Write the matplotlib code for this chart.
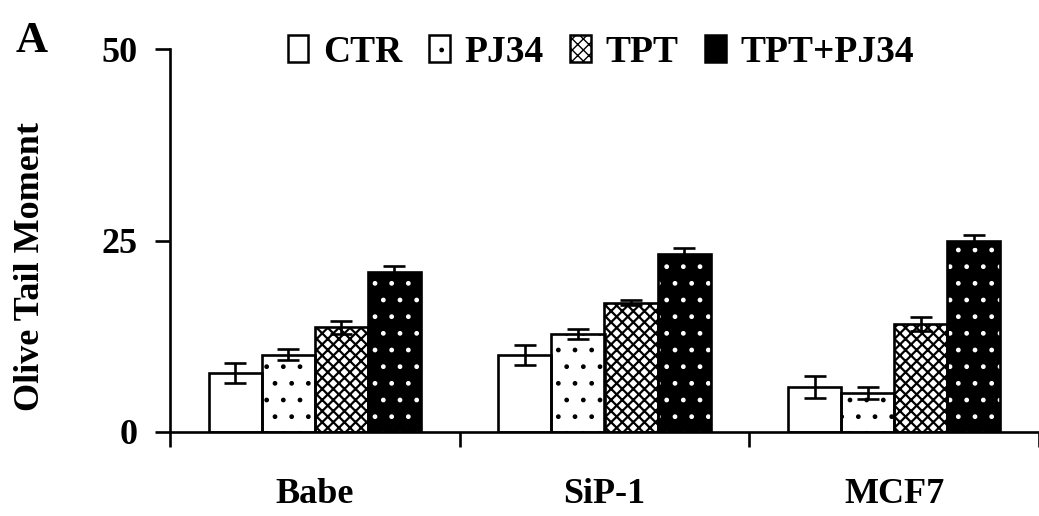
import matplotlib
matplotlib.use("Agg")
import matplotlib.pyplot as plt
from matplotlib.patches import Patch
import numpy as np

plt.rcParams['font.family'] = ['Liberation Serif', 'DejaVu Serif']
plt.rcParams['font.weight'] = 'bold'

# ---- data ----
cell_lines = ["Babe", "SiP-1", "MCF7"]
treatments = ["CTR", "PJ34", "TPT", "TPT+PJ34"]
ctr = [7.7, 10.0, 5.9]
pj34 = [10.1, 12.8, 5.1]
tpt = [13.7, 16.9, 14.1]
tpt_pj34 = [20.9, 23.2, 25.0]
ctr_err = [1.35, 1.3, 1.4]
pj34_err = [0.7, 0.7, 0.76]
tpt_err = [0.85, 0.35, 0.87]
tpt_pj34_err = [0.8, 0.78, 0.74]
yticks = [0, 25, 50]

values = [ctr, pj34, tpt, tpt_pj34]
errors = [ctr_err, pj34_err, tpt_err, tpt_pj34_err]

fig = plt.figure(figsize=(10.39, 5.16), dpi=100)
ax = fig.add_axes([170/1039, 84/516, (1039-170)/1039, 383/516])

x = np.arange(len(cell_lines))
w = 0.183
offsets = [-1.5*w, -0.5*w, 0.5*w, 1.5*w]
styles = [
    dict(face='white', hatch=None, hcol='black', hlw=1.0),
    dict(face='white', hatch='.', hcol='black', hlw=1.0),
    dict(face='white', hatch='xxx', hcol='black', hlw=1.6),
    dict(face='black', hatch='.', hcol='white', hlw=1.0),
]
lw = 1.9
handles = []
for i, (vals, errs, st) in enumerate(zip(values, errors, styles)):
    pos = x + offsets[i]
    plt.rcParams['hatch.linewidth'] = st['hlw']
    ax.bar(pos, vals, w, color=st['face'], edgecolor=st['hcol'],
           hatch=st['hatch'], linewidth=0, zorder=2)
    ax.bar(pos, vals, w, fill=False, edgecolor='black', linewidth=lw, zorder=3)
    ax.errorbar(pos, vals, yerr=errs, fmt='none', ecolor='black',
                elinewidth=lw, capsize=8, capthick=lw, zorder=4)
    handles.append(Patch(facecolor=st['face'], edgecolor='black',
                         hatch=st['hatch'], linewidth=1.8))

ax.set_ylim(0, 50)
ax.set_xlim(-0.5, -0.5 + (1039-170)/291.5)
ax.set_yticks(yticks)
ax.set_yticklabels([str(t) for t in yticks], fontsize=26, fontweight='bold')
ax.set_xticks([-0.5, 0.5, 1.5, 2.5])
ax.set_xticklabels([])
ax.set_xticks(x, minor=True)
ax.set_xticklabels(cell_lines, minor=True, fontsize=26, fontweight='bold')
ax.tick_params(axis='x', which='major', direction='out', length=11, width=lw)
ax.tick_params(axis='x', which='minor', length=0, pad=33)
ax.tick_params(axis='y', direction='out', length=10.5, width=lw, pad=13)
for s in ['top', 'right']:
    ax.spines[s].set_visible(False)
for s in ['left', 'bottom']:
    ax.spines[s].set_linewidth(lw)
ax.spines['left'].set_zorder(5)

ax.set_ylabel("Olive Tail Moment", fontsize=26, fontweight='bold')
ax.yaxis.set_label_coords(-0.142, 0.433)

fig.legend(handles, treatments, loc='center', bbox_to_anchor=(601/1039, 1-52/516),
           ncol=4, frameon=False, prop={'weight': 'bold', 'size': 27},
           handlelength=0.55, handleheight=0.75, handletextpad=0.4,
           columnspacing=0.7, borderpad=0, borderaxespad=0)

fig.text(32/1039, 1-41/516, "A", fontsize=32, fontweight='bold', ha='center', va='center')

fig.savefig("out.png", dpi=100)
